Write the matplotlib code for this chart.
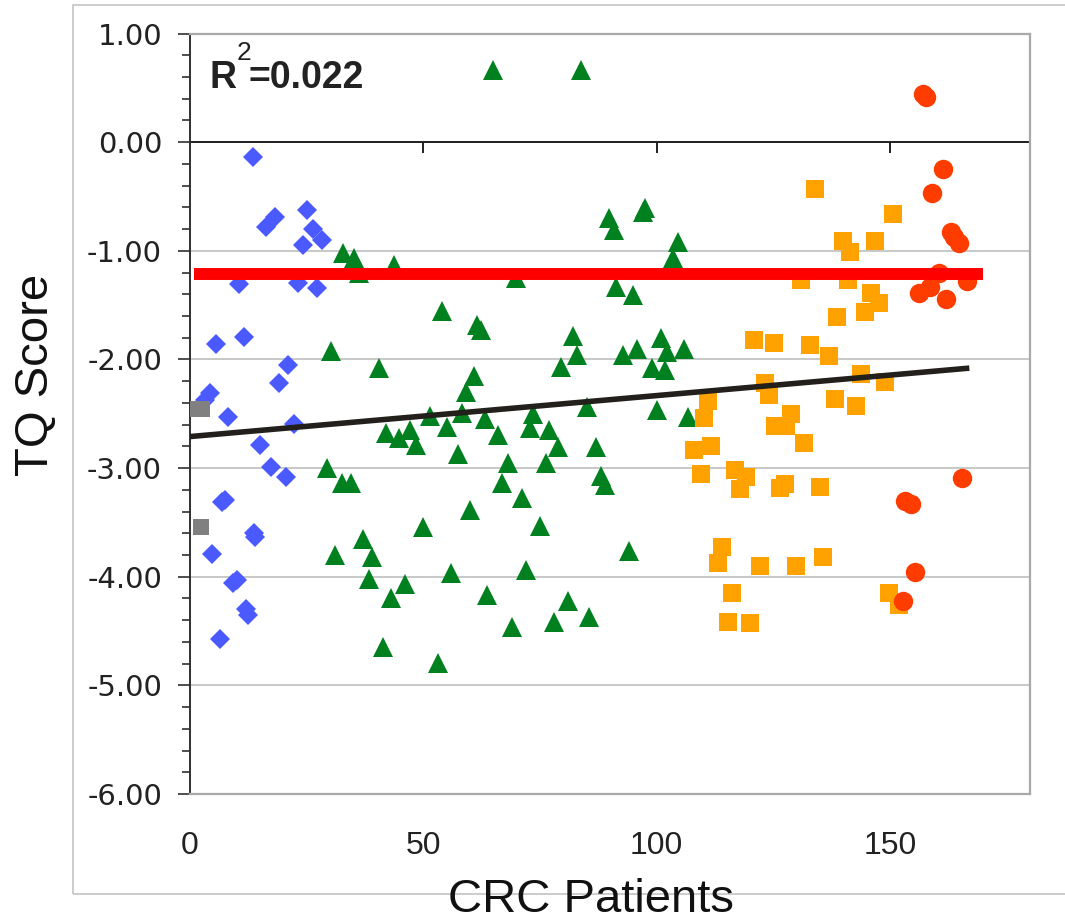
import matplotlib.pyplot as plt
from matplotlib.patches import Rectangle

plt.rcParams['font.family'] = ['Liberation Sans', 'DejaVu Sans']

# data
blue_x = [13.6, 16.2, 18.3, 25.1, 26.4, 28.2, 24.3, 10.6, 23.2, 27.2,
          5.5, 11.5, 21.0, 19.1, 3.2, 4.2, 8.1, 22.3, 15.1, 17.4,
          20.6, 6.8, 7.6, 13.8, 13.9, 4.7, 9.3, 10.0, 12.0, 12.4, 6.4]
blue_y = [-0.14, -0.78, -0.69, -0.62, -0.80, -0.90, -0.95, -1.31, -1.30, -1.34,
          -1.86, -1.79, -2.05, -2.22, -2.37, -2.31, -2.53, -2.59, -2.79, -2.99,
          -3.08, -3.31, -3.29, -3.60, -3.63, -3.79, -4.06, -4.03, -4.30, -4.35, -4.57]

gray_x = [1.1, 2.6, 2.3]
gray_y = [-2.46, -2.46, -3.54]

green_x = [32.8, 35.1, 36.2, 43.8, 54.0, 61.5, 62.3, 30.2, 40.4, 60.9,
           59.1, 51.5, 58.2, 41.9, 44.7, 47.2, 48.5, 55.0, 57.4, 63.3,
           29.4, 32.6, 34.5, 60.0, 50.0, 37.0, 31.1, 38.9, 38.3, 56.0,
           46.0, 43.0, 63.6, 41.3, 53.2, 89.8, 90.9, 97.0, 97.6, 104.5,
           103.4, 69.8, 91.3, 94.9, 82.1, 83.0, 79.6, 100.9, 95.7, 92.8,
           102.3, 105.9, 98.9, 101.7, 65.9, 73.6, 72.8, 77.0, 78.9, 85.1,
           87.0, 100.0, 106.8, 68.1, 76.2, 66.8, 71.1, 88.1, 88.9, 74.9,
           94.0, 71.9, 81.1, 85.5, 69.1, 77.9, 64.9, 83.8]
green_y = [-1.02, -1.07, -1.20, -1.13, -1.55, -1.68, -1.73, -1.92, -2.08, -2.15,
           -2.30, -2.52, -2.49, -2.68, -2.72, -2.65, -2.79, -2.62, -2.87, -2.55,
           -3.00, -3.14, -3.14, -3.39, -3.54, -3.65, -3.80, -3.82, -4.02, -3.97,
           -4.07, -4.20, -4.17, -4.65, -4.79, -0.70, -0.81, -0.64, -0.61, -0.92,
           -1.07, -1.25, -1.33, -1.41, -1.78, -1.96, -2.07, -1.80, -1.90, -1.96,
           -1.93, -1.90, -2.08, -2.10, -2.70, -2.50, -2.63, -2.65, -2.81, -2.44,
           -2.81, -2.47, -2.53, -2.95, -2.95, -3.14, -3.28, -3.07, -3.16, -3.53,
           -3.76, -3.94, -4.22, -4.37, -4.46, -4.42, 0.66, 0.66]

orange_x = [134.0, 150.6, 140.0, 141.5, 146.8, 131.0, 140.9, 146.0, 147.7, 138.7,
            144.7, 120.9, 125.1, 132.8, 137.0, 143.8, 148.9, 123.2, 124.0, 111.0,
            138.3, 142.8, 110.2, 128.7, 125.4, 127.8, 131.5, 108.0, 111.7, 109.4,
            116.8, 119.1, 117.9, 126.4, 127.4, 134.9, 114.0, 113.2, 122.1, 129.8,
            135.7, 116.2, 149.8, 151.9, 115.3, 120.0]
orange_y = [-0.43, -0.66, -0.91, -1.01, -0.91, -1.27, -1.27, -1.39, -1.48, -1.61,
            -1.56, -1.82, -1.85, -1.87, -1.97, -2.13, -2.21, -2.22, -2.33, -2.38,
            -2.36, -2.43, -2.54, -2.50, -2.61, -2.61, -2.77, -2.83, -2.80, -3.05,
            -3.02, -3.08, -3.19, -3.18, -3.15, -3.17, -3.73, -3.87, -3.90, -3.90,
            -3.82, -4.15, -4.15, -4.26, -4.42, -4.43]

red_x = [157.0, 157.8, 161.3, 159.1, 163.0, 163.8, 164.7, 160.4, 166.4, 158.5,
         156.2, 162.1, 165.5, 153.3, 154.6, 155.3, 152.8]
red_y = [0.44, 0.42, -0.25, -0.47, -0.83, -0.87, -0.93, -1.20, -1.28, -1.33,
         -1.39, -1.44, -3.09, -3.30, -3.33, -3.96, -4.22]

trend_x = [0, 167]
trend_y = [-2.71, -2.08]
cutoff_x = [0.8, 170]
cutoff_y = [-1.21, -1.21]

yticks = [1, 0, -1, -2, -3, -4, -5, -6]
xticks = [0, 50, 100, 150]

W, H = 1065, 924
fig = plt.figure(figsize=(W / 100, H / 100), dpi=100)
ax = fig.add_axes([190 / W, 1 - 794 / H, 840 / W, 760.5 / H])

ax.plot(blue_x, blue_y, 'D', ms=10, color='#4a5aff', mew=0, zorder=3)
ax.plot(gray_x, gray_y, 's', ms=12, color='#808080', mew=0, zorder=3)
ax.plot(green_x, green_y, '^', ms=14, color='#00801f', mew=0, zorder=3)
ax.plot(orange_x, orange_y, 's', ms=12.5, color='#ffa200', mew=0, zorder=3)
ax.plot(red_x, red_y, 'o', ms=14, color='#ff3c00', mew=0, zorder=3)

ax.plot(trend_x, trend_y, color='#231f1a', lw=4, zorder=4, solid_capstyle='butt')
ax.plot(cutoff_x, cutoff_y, color='#ff0000', lw=8.6, zorder=4, solid_capstyle='butt')

# x axis line crossing at y = 0 with its downward ticks
ax.axhline(0, color='#202020', lw=1.4, zorder=2)
ax.vlines(xticks[1:], -0.1, 0, color='#202020', lw=1.4, zorder=2)

ax.set_xlim(0, 180)
ax.set_ylim(-6, 1)
ax.set_yticks(yticks)
ax.set_yticklabels(['%.2f' % v for v in yticks], family='DejaVu Sans', fontsize=21, color='#222222')
ax.set_yticks([v / 5 for v in range(-30, 6)], minor=True)
ax.set_xticks(xticks)
ax.set_xticklabels([str(v) for v in xticks], fontsize=23, color='#222222')
ax.tick_params(axis='y', which='major', length=8.6, width=1.2, pad=11.5, color='#303030')
ax.tick_params(axis='y', which='minor', length=5.8, width=1.2, color='#303030')
ax.tick_params(axis='x', length=0, pad=27)

ax.grid(axis='y', color='#c8c8c8', lw=1.4)
ax.set_axisbelow(True)
for side in ['top', 'right', 'bottom']:
    ax.spines[side].set_color('#a8a8a8')
    ax.spines[side].set_linewidth(1.6)
ax.spines['left'].set_color('#303030')
ax.spines['left'].set_linewidth(1.4)

# R squared note
fig.text(210 / W, 1 - 88 / H, 'R', fontsize=27, fontweight='bold', color='#222222')
fig.text(237 / W, 1 - 60 / H, '2', fontsize=19, color='#222222')
fig.text(249 / W, 1 - 88 / H, '=0.022', fontsize=27, fontweight='bold', color='#222222')

fig.text(36 / W, 1 - 375 / H, 'TQ Score', rotation=90, fontsize=34,
         ha='center', va='center', color='#111111')
fig.text(591 / W, 1 - 922 / H, 'CRC Patients', fontsize=34,
         ha='center', va='bottom', color='#111111')

# outer chart frame
fig.add_artist(Rectangle((73 / W, 1 - 894 / H), 1100 / W, 889 / H,
                         transform=fig.transFigure, fill=False,
                         ec='#c4c4c4', lw=1.2, zorder=0))

fig.savefig('out.png', dpi=100)
